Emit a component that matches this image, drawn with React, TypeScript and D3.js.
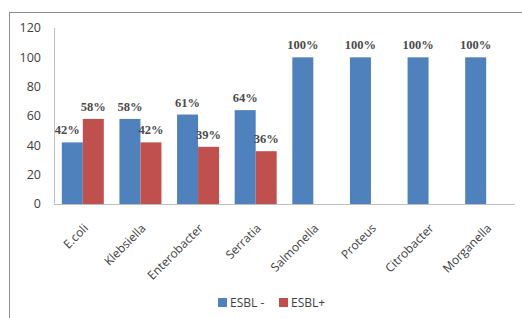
import React from "react";
import * as d3 from "d3";

const categories = ["E.coli", "Klebsiella", "Enterobacter", "Serratia", "Salmonella", "Proteus", "Citrobacter", "Morganella"];
const esblNeg = [42, 58, 61, 64, 100, 100, 100, 100];
const esblPos: (number | null)[] = [58, 42, 39, 36, null, null, null, null];
const yTicks = [0, 20, 40, 60, 80, 100, 120];
const seriesNames = ["ESBL -", "ESBL+"];
const colors = ["#4F81BD", "#C0504D"];

export default function App() {
  const W = 522, H = 318;
  const left = 54, right = 515, top = 28, bottom = 204;
  const x = d3.scaleBand<string>().domain(categories).range([left, right]).paddingInner(0).paddingOuter(0);
  const y = d3.scaleLinear().domain([0, 120]).range([bottom, top]);
  const bw = 21;
  const sans = "'Open Sans', 'Liberation Sans', sans-serif";
  const serif = "'Liberation Serif', 'DejaVu Serif', serif";
  return (
    <svg width={W} height={H} style={{ position: "absolute", left: 0, top: 0, background: "#fff" }}>
      <rect x={9.5} y={12.5} width={530} height={320} fill="#fff" stroke="#8c8c8c" strokeWidth={1} />
      <line x1={left + 0.5} x2={left + 0.5} y1={top} y2={bottom} stroke="#bfbfbf" />
      {yTicks.map((t) => (
        <text key={t} x={41} y={y(t)} dy="0.35em" textAnchor="end" fontFamily={sans} fontSize={12.5} fill="#404040">
          {t}
        </text>
      ))}
      {categories.map((c, i) => {
        const cx = (x(c) as number) + x.bandwidth() / 2;
        const v0 = esblNeg[i];
        const v1 = esblPos[i];
        const dx0 = i === 0 ? -5 : 0;
        return (
          <g key={c}>
            <rect x={cx - bw} y={y(v0)} width={bw} height={bottom - y(v0)} fill={colors[0]} />
            <text x={cx - bw / 2 + dx0} y={y(v0) - 8} textAnchor="middle" fontFamily={serif} fontSize={12.5} fontWeight="bold" fill="#4a4a4a">
              {v0}%
            </text>
            {v1 != null && (
              <>
                <rect x={cx} y={y(v1)} width={bw} height={bottom - y(v1)} fill={colors[1]} />
                <text x={cx + bw / 2} y={y(v1) - 8} textAnchor="middle" fontFamily={serif} fontSize={12.5} fontWeight="bold" fill="#4a4a4a">
                  {v1}%
                </text>
              </>
            )}
            <text
              transform={`translate(${cx + 3},${bottom + 22}) rotate(-45)`}
              textAnchor="end"
              fontFamily={sans}
              fontSize={12}
              fill="#404040"
              dy="0.35em"
            >
              {c}
            </text>
          </g>
        );
      })}
      <line x1={left} x2={right} y1={bottom + 0.5} y2={bottom + 0.5} stroke="#bfbfbf" />
      {seriesNames.map((s, i) => {
        const lx = i === 0 ? 218 : 279;
        return (
          <g key={s}>
            <rect x={lx} y={298} width={9} height={9} fill={colors[i]} />
            <text x={lx + 12} y={302.5} dy="0.35em" fontFamily={sans} fontSize={12} fill="#404040">
              {s}
            </text>
          </g>
        );
      })}
    </svg>
  );
}
